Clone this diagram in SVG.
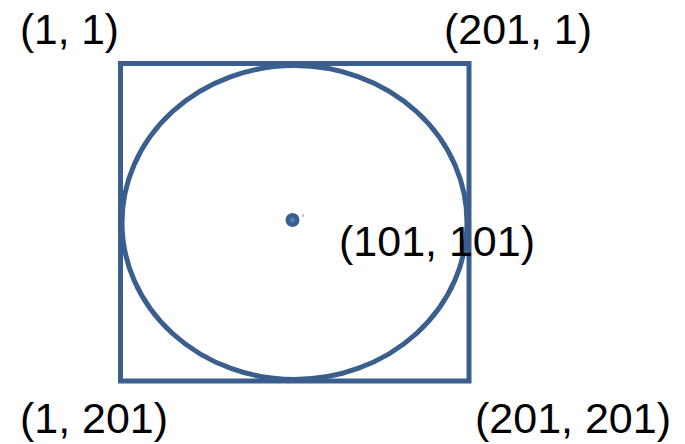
<svg xmlns="http://www.w3.org/2000/svg" width="685" height="444" viewBox="0 0 685 444">
<style>
.shape{fill:none;stroke:#3A5E8D;stroke-width:5}
.lbl{font-family:"Liberation Sans",Arial,sans-serif;font-size:42px;fill:#000}
</style>
<rect width="685" height="444" fill="#fff"/>
<g id="square"><rect class="shape" x="120.5" y="63.5" width="348.5" height="317.5"/></g>
<g id="circle"><ellipse class="shape" cx="294.5" cy="222.5" rx="172.5" ry="157"/></g>
<g id="center">
<circle cx="292.5" cy="220" r="7" fill="#3A5E8D"/>
<circle cx="292.5" cy="220" r="2.5" fill="#4F7DB5"/>
<line x1="303" y1="214" x2="303" y2="217" stroke="#6F8FB8" stroke-width="1"/>
</g>
<g id="labels">
<text class="lbl" x="20" y="44" textLength="99" lengthAdjust="spacingAndGlyphs">(1, 1)</text>
<text class="lbl" x="444" y="44" textLength="148" lengthAdjust="spacingAndGlyphs">(201, 1)</text>
<text class="lbl" x="339" y="256" textLength="196" lengthAdjust="spacingAndGlyphs">(101, 101)</text>
<text class="lbl" x="20" y="433" textLength="148" lengthAdjust="spacingAndGlyphs">(1, 201)</text>
<text class="lbl" x="475" y="433" textLength="196" lengthAdjust="spacingAndGlyphs">(201, 201)</text>
</g>
</svg>
